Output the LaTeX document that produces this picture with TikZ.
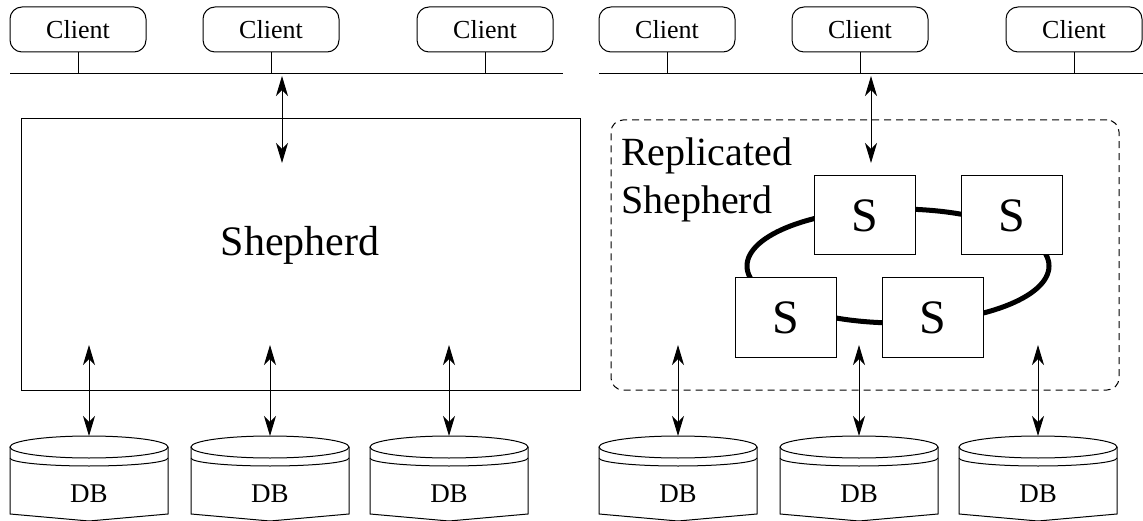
\documentclass[tikz,border=0pt]{standalone}
\usepackage{fontspec}
\setmainfont{Liberation Serif}
\newfontfamily\tnr{Liberation Serif}
\usetikzlibrary{arrows.meta}
\tikzset{
  ln/.style={line width=1pt},
  client/.style={draw, ln, rounded corners=12pt, minimum width=136pt, minimum height=45pt, inner sep=0pt, font=\tnr\fontsize{26}{31}\selectfont},
  dbtext/.style={inner sep=0pt, font=\tnr\fontsize{27}{31}\selectfont},
  bigbox/.style={draw, ln, minimum width=559pt, minimum height=271pt, inner sep=0pt},
  dashbox/.style={draw, ln, dash pattern=on 7pt off 5pt, rounded corners=12pt, minimum width=508pt, minimum height=270pt, inner sep=0pt},
  sbox/.style={draw, ln, fill=white, minimum width=101pt, minimum height=79pt, inner sep=0pt, font=\tnr\fontsize{48}{56}\selectfont},
  bigtext/.style={inner sep=0pt, font=\tnr\fontsize{40}{48}\selectfont},
  tip/.tip={Stealth[length=20pt,width=12pt,inset=6pt]},
  dbl/.style={ln, tip-tip},
  ring/.style={line width=5pt},
}
\begin{document}
\begin{tikzpicture}[x=1pt,y=-1pt]
\useasboundingbox (0,0) rectangle (1143,521);
\clip (0,0) rectangle (1143,521);
% ---------- left panel ----------
\node[client] (c1) at (78,29.5) {Client};
\node[client] (c2) at (271,29.5) {Client};
\node[client] (c3) at (485,29.5) {Client};
\coordinate (busL1) at (10,74);
\coordinate (busL2) at (563,74);
\draw[ln] (busL1) -- (busL2);
\foreach \c in {c1,c2,c3} \draw[ln] (\c.south) -- (\c.south |- busL1);
\node[bigbox] (shep) at (300.5,254.5) {};
\node[bigtext, anchor=base, font=\tnr\fontsize{42}{48}\selectfont] (sheptxt) at (300,256) {Shepherd};
\coordinate (upL) at (282,76);
\coordinate (upLb) at (282,163);
\draw[dbl] (upL) -- (upLb);
% ---------- right panel ----------
\node[client] (c4) at (667,29.5) {Client};
\node[client] (c5) at (860,29.5) {Client};
\node[client] (c6) at (1074,29.5) {Client};
\coordinate (busR1) at (599,74);
\coordinate (busR2) at (1152,74);
\draw[ln] (busR1) -- (busR2);
\foreach \c in {c4,c5,c6} \draw[ln] (\c.south) -- (\c.south |- busR1);
\node[dashbox] (rep) at (865,255) {};
\node[bigtext, anchor=north west, align=left] (reptxt) at (621,138) {Replicated\\Shepherd};
\draw[ring] (898,266) ellipse [x radius=151, y radius=57];
\node[sbox] (s1) at (864.5,215.5) {S};
\node[sbox] (s2) at (1012,215.5) {S};
\node[sbox] (s3) at (785.5,317.5) {S};
\node[sbox] (s4) at (932.5,317.5) {S};
\coordinate (upR) at (871,76);
\coordinate (upRb) at (871,163);
\draw[dbl] (upR) -- (upRb);
% ---------- databases ----------
\foreach \n/\cx in {dA/89, dB/270, dC/449, dD/678, dE/859, dF/1038} {
  \node[dbtext] (\n) at (\cx,494) {DB};
  \coordinate (\n-top) at (\cx,436);
  \coordinate (\n-up) at (\cx,345);
  \draw[ln] (\cx,447) ellipse [x radius=79, y radius=11];
  \draw[ln] ({\cx-79},458) arc [start angle=180, end angle=0, x radius=79, y radius=8];
  \draw[ln, line join=miter] ({\cx-79},447) -- ({\cx-79},514) -- (\cx,521) -- ({\cx+79},514) -- ({\cx+79},447);
  \draw[dbl] (\n-up) -- (\n-top);
}
\end{tikzpicture}
\end{document}
